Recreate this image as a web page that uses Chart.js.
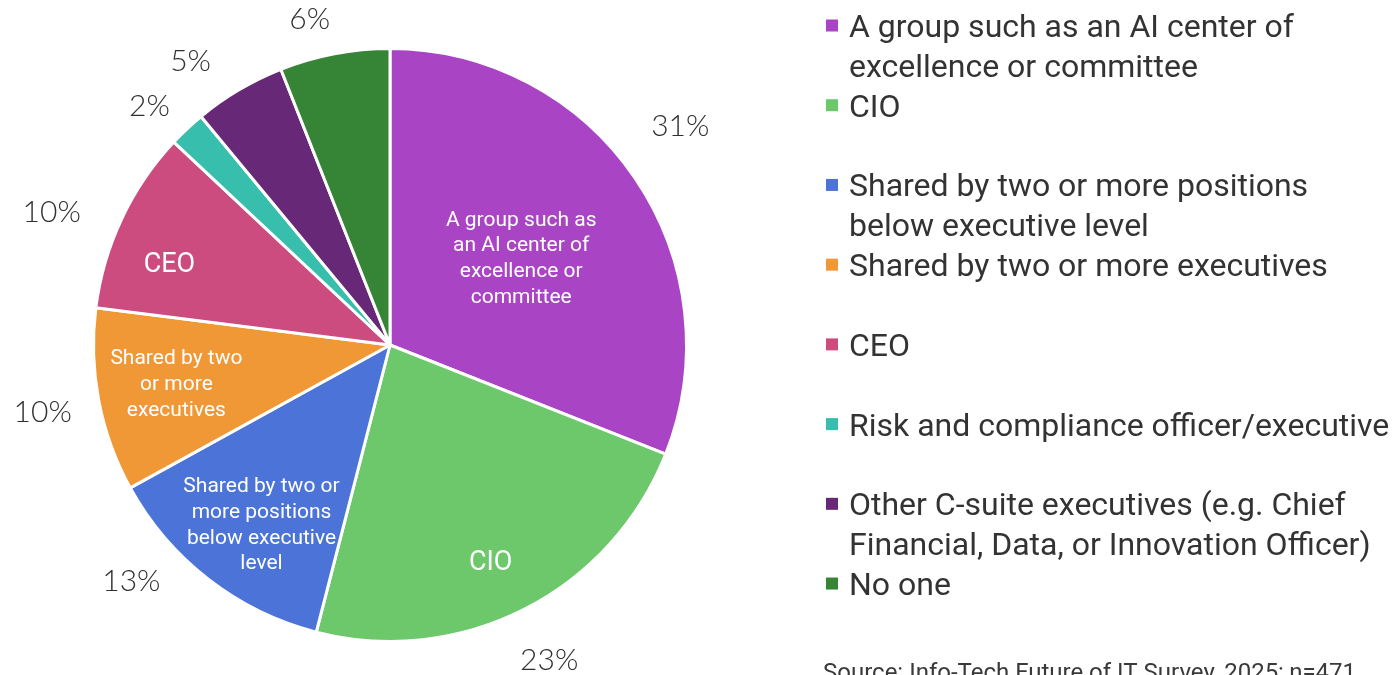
<!DOCTYPE html>
<html>
<head>
<meta charset="utf-8">
<script src="https://cdn.jsdelivr.net/npm/chart.js@4.4.1/dist/chart.umd.min.js"></script>
<style>
  html, body { margin: 0; padding: 0; background: #fff; }
  #wrap { width: 1396px; height: 675px; position: relative; }
</style>
</head>
<body>
<div id="wrap"><canvas id="myChart"></canvas></div>
<script>
const CATEGORIES = [
  'A group such as an AI center of excellence or committee',
  'CIO',
  'Shared by two or more positions below executive level',
  'Shared by two or more executives',
  'CEO',
  'Risk and compliance officer/executive',
  'Other C-suite executives (e.g. Chief Financial, Data, or Innovation Officer)',
  'No one'
]
const SHARES = [31, 23, 13, 10, 10, 2, 5, 6]
const COLORS = ['#a945c4', '#6dc76b', '#4c74d8', '#ef9835', '#cc4c80', '#37beac', '#662877', '#368536']

// legend text, already wrapped
const LEGEND_LINES = [
  ['A group such as an AI center of', 'excellence or committee'],
  ['CIO'],
  ['Shared by two or more positions', 'below executive level'],
  ['Shared by two or more executives'],
  ['CEO'],
  ['Risk and compliance officer/executive'],
  ['Other C-suite executives (e.g. Chief', 'Financial, Data, or Innovation Officer)'],
  ['No one']
]
// names printed inside the bigger slices
const SLICE_LINES = [
  ['A group such as', 'an AI center of', 'excellence or', 'committee'],
  ['CIO'],
  ['Shared by two or', 'more positions', 'below executive', 'level'],
  ['Shared by two', 'or more', 'executives'],
  ['CEO'],
  [], [], []
]
const SOURCE = 'Source: Info-Tech Future of IT Survey, 2025; n=471'

// label placement: inside names sit at a fraction of the radius,
// percentages just outside the rim, each with a small hand tweak
const INSIDE_AT = [0.535, 0.8, 0.74, 0.73, 0.8]
const INSIDE_NUDGE = [[0, 0], [-7, 3], [6, 4], [-1, -4], [-6, 17]]
const OUTSIDE_NUDGE = [[2, -23], [1, 5], [-45, -39], [-5, 2], [-23, 16], [-2, 15], [-22, 16], [-15, 1]]

const sliceLabels = {
  id: 'sliceLabels',
  afterDatasetsDraw(chart) {
    const ctx = chart.ctx
    const meta = chart.getDatasetMeta(0)
    ctx.save()
    ctx.textAlign = 'center'
    ctx.textBaseline = 'middle'
    meta.data.forEach((arc, i) => {
      const p = arc.getProps(['x', 'y', 'startAngle', 'endAngle', 'outerRadius'], true)
      const mid = (p.startAngle + p.endAngle) / 2
      const c = Math.cos(mid), s = Math.sin(mid)

      // percentage outside the pie
      let ox = p.x + c * (p.outerRadius + 52) + OUTSIDE_NUDGE[i][0]
      let oy = Math.max(p.y + s * (p.outerRadius + 52), 18) + OUTSIDE_NUDGE[i][1]
      ctx.font = '300 30px Lato, "Open Sans", sans-serif'
      ctx.fillStyle = '#303030'
      ctx.fillText(SHARES[i] + '%', ox, oy)

      // name inside the slice
      const lines = SLICE_LINES[i]
      if (!lines.length) return
      const r = p.outerRadius * INSIDE_AT[i]
      const size = lines.length > 1 ? 21 : 27
      const ix = p.x + c * r + INSIDE_NUDGE[i][0]
      const iy = p.y + s * r + INSIDE_NUDGE[i][1] + size * 0.15
      const lh = 25.8
      ctx.font = size + 'px Roboto, sans-serif'
      ctx.fillStyle = '#ffffff'
      lines.forEach((t, k) => {
        ctx.fillText(t, ix, iy + (k - (lines.length - 1) / 2) * lh)
      })
    })
    ctx.restore()
  }
}

const sideLegend = {
  id: 'sideLegend',
  afterDraw(chart) {
    const ctx = chart.ctx
    const lineH = 39.86
    ctx.save()
    ctx.font = '32px Roboto, sans-serif'
    ctx.textAlign = 'left'
    ctx.textBaseline = 'alphabetic'
    LEGEND_LINES.forEach((lines, i) => {
      // every entry gets a two-line slot
      const base = 37 + i * 2 * lineH
      ctx.fillStyle = COLORS[i]
      ctx.fillRect(826, base - 17.5, 12, 12)
      ctx.fillStyle = '#333333'
      lines.forEach((t, k) => ctx.fillText(t, 849, base + k * lineH))
    })
    ctx.font = '24px Roboto, sans-serif'
    ctx.fillStyle = '#3a3a3a'
    ctx.fillText(SOURCE, 823, 680)
    ctx.restore()
  }
}

const ctx = document.getElementById('myChart')
new Chart(ctx, {
  type: 'pie',
  data: {
    labels: CATEGORIES,
    datasets: [{
      data: SHARES,
      backgroundColor: COLORS,
      borderColor: '#ffffff',
      borderWidth: 3
    }]
  },
  options: {
    responsive: true,
    maintainAspectRatio: false,
    animation: false,
    events: [],
    layout: {
      padding: { left: 92, right: 708, top: 47, bottom: 32 }
    },
    plugins: {
      legend: { display: false },
      tooltip: { enabled: false }
    }
  },
  plugins: [sliceLabels, sideLegend]
})
</script>
</body>
</html>
